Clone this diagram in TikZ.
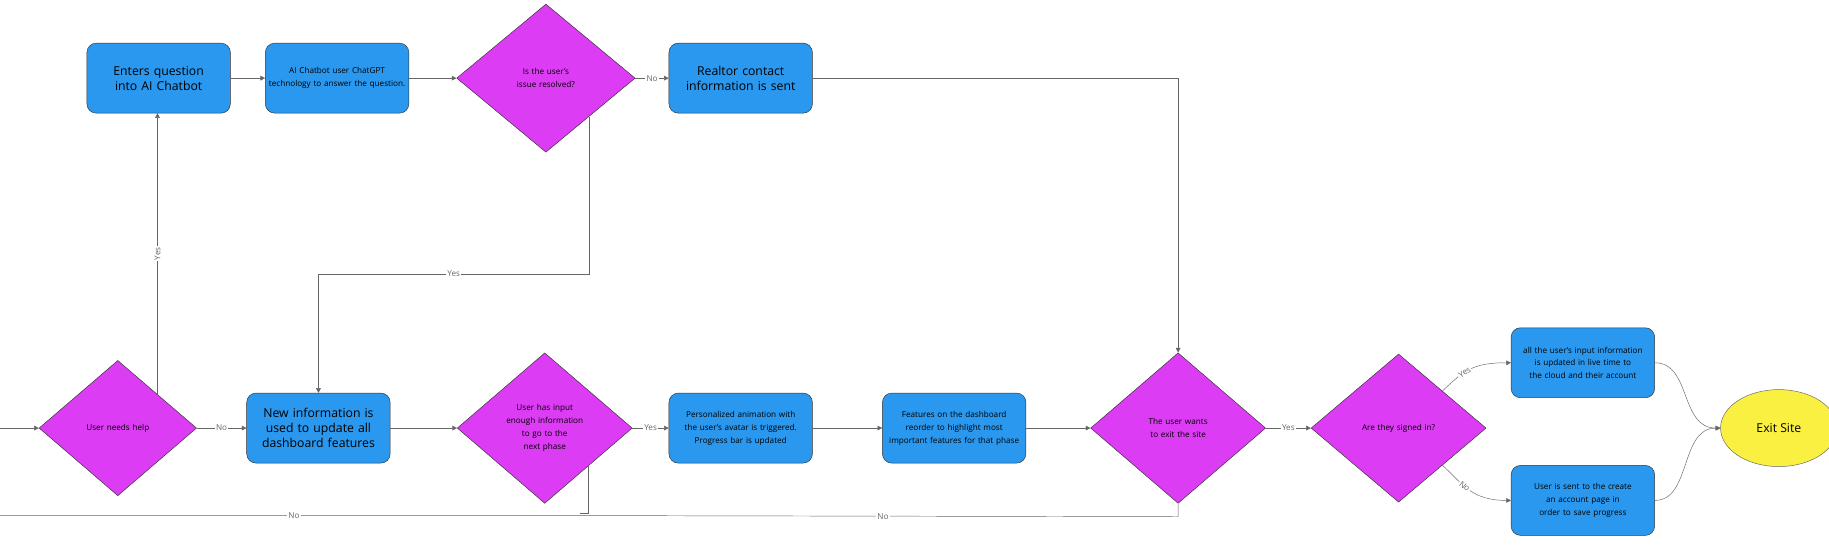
\documentclass[tikz,border=0pt]{standalone}
\usepackage{fontspec}
\setmainfont{Open Sans}
\usetikzlibrary{shapes.geometric,arrows.meta}
\definecolor{boxblue}{RGB}{42,152,238}
\definecolor{decmag}{RGB}{221,60,245}
\definecolor{exityel}{RGB}{250,240,65}
\tikzset{
  box/.style={rectangle,rounded corners=8pt,draw=black!80,fill=boxblue,minimum width=123pt,minimum height=60pt,align=center,inner sep=2pt},
  bigbox/.style={box,text width=119pt,font=\fontsize{10.5}{13}\selectfont},
  smallbox/.style={box,text width=119pt,font=\fontsize{7}{11}\selectfont},
  decision/.style={diamond,draw=black!80,fill=decmag,inner sep=0pt,align=center,text width=74pt,font=\fontsize{7}{11}\selectfont},
  flow/.style={draw=black!60,-{Triangle[length=4pt,width=4pt]}},
  link/.style={draw=black!60},
  lbl/.style={fill=white,inner sep=1pt,text=black!60,font=\fontsize{7}{9}\selectfont}
}
\begin{document}
\hyphenpenalty=10000
\exhyphenpenalty=10000
\begin{tikzpicture}[x=1pt,y=-1pt]
  \useasboundingbox (0,0) rectangle (1568,476);

  % top row
  \node[bigbox] (enter) at (136,67) {Enters question into AI Chatbot};
  \node[smallbox] (chatbot) at (289,67) {AI Chatbot user ChatGPT technology to answer the question.};
  \node[decision,minimum width=153pt,minimum height=127pt] (resolved) at (468,67) {Is the user's issue resolved?};
  \node[bigbox] (realtor) at (635,67) {Realtor contact information is sent};

  % bottom row
  \node[decision,minimum width=135pt,minimum height=116pt,text width=70pt] (help) at (101,367) {User needs help};
  \node[bigbox] (newinfo) at (273,367) {New information is used to update all dashboard features};
  \node[decision,minimum width=150pt,minimum height=129pt,text width=70pt] (input) at (467,367) {User has input enough information to go to the next phase};
  \node[smallbox] (anim) at (635,367) {Personalized animation with the user's avatar is triggered. Progress bar is updated};
  \node[smallbox] (features) at (818,367) {Features on the dashboard reorder to highlight most important features for that phase};
  \node[decision,minimum width=150pt,minimum height=129pt] (wants) at (1010,367) {The user wants to exit the site};
  \node[decision,minimum width=150pt,minimum height=127pt] (signed) at (1199,367) {Are they signed in?};
  \node[smallbox] (saved) at (1357,311) {all the user's input information is updated in live time to the cloud and their account};
  \node[smallbox] (account) at (1357,429) {User is sent to the create an account page in order to save progress};
  \node[ellipse,draw=black!60,fill=exityel,minimum width=100pt,minimum height=66pt,font=\fontsize{10.5}{13}\selectfont] (exit) at (1525,367) {Exit Site};

  \coordinate (start) at (0,367);
  \coordinate (loopend) at (0,442);
  \coordinate (yesbend) at (273,235);

  % connectors
  \draw[flow] (start) -- (help.west);
  \draw[flow] (135,338) -- node[lbl,rotate=90] {Yes} (135,97);
  \draw[flow] (enter) -- (chatbot);
  \draw[flow] (chatbot) -- (resolved);
  \draw[flow] (resolved) -- node[lbl] {No} (realtor);
  \draw[flow] (realtor.east) -| (wants.north);
  \draw[flow] (505,100) |- node[lbl,pos=0.75] {Yes} (yesbend) -- (newinfo.north);
  \draw[flow] (help) -- node[lbl] {No} (newinfo);
  \draw[flow] (newinfo) -- (input);
  \draw[flow] (input) -- node[lbl] {Yes} (anim);
  \draw[flow] (anim) -- (features);
  \draw[flow] (features) -- (wants);
  \draw[flow] (wants) -- node[lbl] {Yes} (signed);
  \draw[flow] (signed.north east) .. controls (1255,318) and (1262,311) .. node[lbl,sloped,pos=0.4] {Yes} (saved.west);
  \draw[flow] (signed.south east) .. controls (1255,416) and (1262,429) .. node[lbl,sloped,pos=0.4] {No} (account.west);
  \draw[flow] (saved.east) .. controls (1450,311) and (1440,367) .. (exit.west);
  \draw[flow] (account.east) .. controls (1450,429) and (1440,367) .. (exit.west);
  \draw[link] (504,399) -- (504,440) -- (497,440);
  \draw[link] (wants.south) -- (1010,443) -- node[lbl] {No} (504,442) -- node[lbl] {No} (loopend);
\end{tikzpicture}
\end{document}
